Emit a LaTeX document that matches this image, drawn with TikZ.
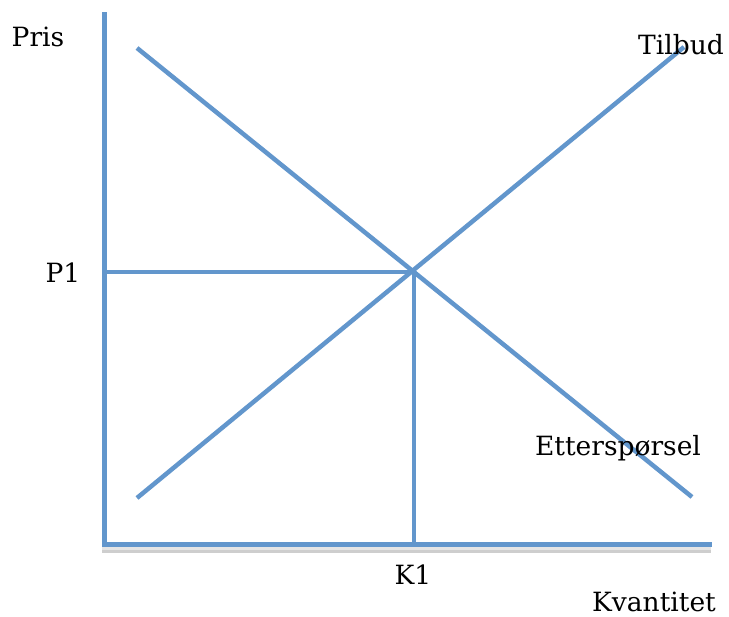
\documentclass[tikz,border=0pt]{standalone}
\usepackage{fontspec}
\setmainfont{DejaVu Serif}
\definecolor{linjeblaa}{RGB}{98,150,204}
\tikzset{
  kurve/.style={draw=linjeblaa,line width=4.5pt},
  akse/.style={draw=linjeblaa,line width=5.5pt},
  etikett/.style={anchor=base,inner sep=0pt,font=\fontsize{26.5}{32}\selectfont,text=black}
}
\begin{document}
\begin{tikzpicture}[x=1pt,y=-1pt]
\useasboundingbox (0,0) rectangle (729,617);
\coordinate (ytopp) at (104.5,15);
\coordinate (origo) at (104.5,544.5);
\coordinate (xslutt) at (709,544.5);
\coordinate (dstart) at (137,48);
\coordinate (dslutt) at (692,497);
\coordinate (sstart) at (137,498);
\coordinate (sslutt) at (684,47);
\coordinate (likevekt) at (414,272);
\coordinate (p1) at (104.5,272);
\coordinate (k1) at (414,544.5);
% shadow of x axis
\draw[line width=6pt,black,opacity=0.10] (102,550.5) -- (711,550.5);
\draw[line width=3pt,black,opacity=0.10] (102,551.5) -- (711,551.5);
\draw[kurve] (dstart) -- (dslutt);
\draw[kurve] (sstart) -- (sslutt);
\draw[kurve] (p1) -- (likevekt);
\draw[kurve] (likevekt) -- (k1);
\draw[akse,line cap=rect] (ytopp) -- (origo) -- (xslutt);
\node[etikett] (pris) at (38,47) {Pris};
\node[etikett] (tilbud) at (681,55) {Tilbud};
\node[etikett] (pen) at (63,283) {P1};
\node[etikett] (etter) at (618,456) {Etterspørsel};
\node[etikett] (ken) at (413,585) {K1};
\node[etikett] (kvant) at (654,612) {Kvantitet};
\end{tikzpicture}
\end{document}
